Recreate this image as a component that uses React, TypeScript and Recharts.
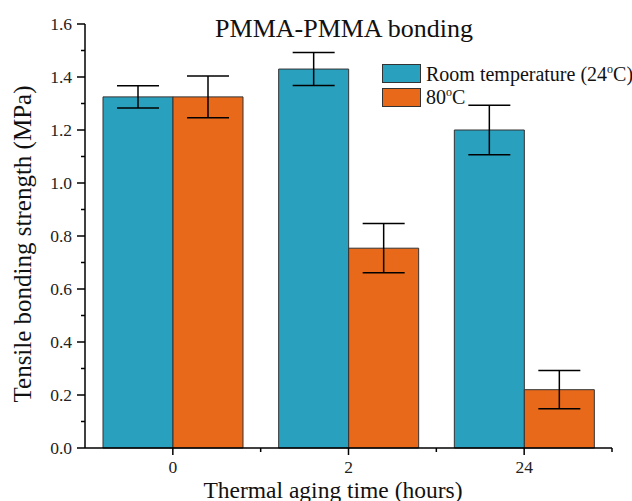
import { Bar, BarChart, Customized, ErrorBar, Legend, XAxis, YAxis } from "recharts";

const categories = ["0", "2", "24"];
const roomTemp = [1.325, 1.43, 1.2];
const roomTempErr = [0.042, 0.062, 0.093];
const hot = [1.325, 0.754, 0.22];
const hotErr = [0.079, 0.093, 0.072];
const seriesNames = ["Room temperature (24°C)", "80°C"];
const yTicks = [0, 0.1, 0.2, 0.3, 0.4, 0.5, 0.6, 0.7, 0.8, 0.9, 1.0, 1.1, 1.2, 1.3, 1.4, 1.5, 1.6];

const TEAL = "#29a0be";
const ORANGE = "#e8691a";
const FONT = "'Liberation Serif', 'Times New Roman', serif";

const data = categories.map((c, i) => ({
  time: c,
  room: roomTemp[i],
  roomErr: roomTempErr[i],
  hot: hot[i],
  hotErr: hotErr[i],
}));

// superscript the degree sign the way the original figure does
function degree(label: string) {
  const parts = label.split("°");
  return parts.map((p, i) => (
    <span key={i}>
      {p}
      {i < parts.length - 1 && <sup style={{ fontSize: "0.6em" }}>o</sup>}
    </span>
  ));
}

function YTick(props: any) {
  const { x, y, payload } = props;
  const v = payload.value as number;
  const major = Math.round(v * 10) % 2 === 0;
  return (
    <g>
      <line x1={x} x2={x - (major ? 8 : 4)} y1={y} y2={y} stroke="#000" strokeWidth={1.5} />
      {major && (
        <text x={x - 13} y={y} dy={6} textAnchor="end" fontSize={17.5} fontFamily={FONT} fill="#222">
          {v.toFixed(1)}
        </text>
      )}
    </g>
  );
}

function XTick(props: any) {
  const { x, y, payload } = props;
  const half = payload.offset ?? 0;
  return (
    <g>
      <line x1={x} x2={x} y1={y} y2={y + 7} stroke="#000" strokeWidth={1.5} />
      <line x1={x + half} x2={x + half} y1={y} y2={y + 4} stroke="#000" strokeWidth={1.5} />
      <text x={x} y={y} dy={25} textAnchor="middle" fontSize={17.5} fontFamily={FONT} fill="#222">
        {payload.value}
      </text>
    </g>
  );
}

function LegendBox() {
  const colors = [TEAL, ORANGE];
  return (
    <div style={{ fontFamily: FONT, fontSize: 20, color: "#111" }}>
      {seriesNames.map((n, i) => (
        <div key={n} style={{ display: "flex", alignItems: "center", height: 23.4 }}>
          <span
            style={{
              width: 37,
              height: 17,
              background: colors[i],
              border: "1px solid #333",
              marginRight: 5,
            }}
          />
          <span style={{ whiteSpace: "nowrap" }}>{degree(n)}</span>
        </div>
      ))}
    </div>
  );
}

function Titles() {
  return (
    <g fontFamily={FONT} fill="#111">
      <text x={344} y={37} textAnchor="middle" fontSize={26}>
        PMMA-PMMA bonding
      </text>
      <text x={333} y={498} textAnchor="middle" fontSize={23.5}>
        Thermal aging time (hours)
      </text>
      <text
        x={0}
        y={0}
        transform="translate(31,244) rotate(-90)"
        textAnchor="middle"
        fontSize={25}
      >
        Tensile bonding strength (MPa)
      </text>
    </g>
  );
}

export default function App() {
  return (
    <div style={{ position: "absolute", left: 0, top: 0, background: "#fff", fontFamily: FONT }}>
      <BarChart
        width={632}
        height={501}
        data={data}
        margin={{ top: 24, right: 20, left: 0, bottom: 0 }}
        barGap={0}
        barSize={70}
      >
        <XAxis
          dataKey="time"
          height={53}
          axisLine={{ stroke: "#000", strokeWidth: 1.5 }}
          tickLine={false}
          tickSize={0}
          tickMargin={0}
          tick={<XTick />}
          interval={0}
        />
        <YAxis
          width={85}
          domain={[0, 1.6]}
          ticks={yTicks}
          interval={0}
          axisLine={{ stroke: "#000", strokeWidth: 1.5 }}
          tickLine={false}
          tickSize={0}
          tickMargin={0}
          tick={<YTick />}
        />
        <Legend
          layout="vertical"
          align="center"
          verticalAlign="middle"
          wrapperStyle={{ top: 62, left: 382, width: "auto" }}
          content={() => <LegendBox />}
        />
        <Bar dataKey="room" name={seriesNames[0]} fill={TEAL} stroke="#333" strokeWidth={1} isAnimationActive={false}>
          <ErrorBar dataKey="roomErr" width={21} stroke="#000" strokeWidth={1.5} />
        </Bar>
        <Bar dataKey="hot" name={seriesNames[1]} fill={ORANGE} stroke="#333" strokeWidth={1} isAnimationActive={false}>
          <ErrorBar dataKey="hotErr" width={21} stroke="#000" strokeWidth={1.5} />
        </Bar>
        <Customized component={Titles} />
      </BarChart>
    </div>
  );
}
